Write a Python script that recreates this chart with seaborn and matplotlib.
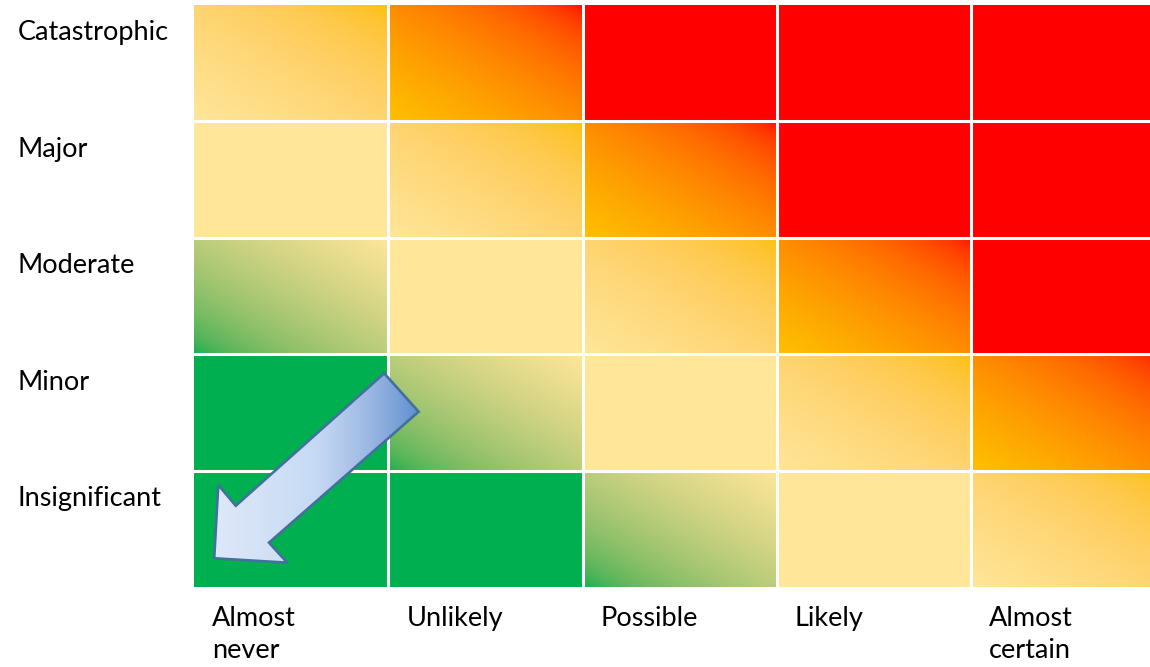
import numpy as np
import pandas as pd
import matplotlib
matplotlib.use("Agg")
import matplotlib.pyplot as plt
import seaborn as sns
from matplotlib.colors import ListedColormap, Normalize, to_rgb
from matplotlib.patches import Polygon

# ---- data ----
impact = ["Catastrophic", "Major", "Moderate", "Minor", "Insignificant"]
likelihood = ["Almost\nnever", "Unlikely", "Possible", "Likely", "Almost\ncertain"]

# risk score per cell (rows top->bottom, cols left->right)
score = [
    [4, 5, 6, 6, 6],
    [3, 4, 5, 6, 6],
    [2, 3, 4, 5, 6],
    [1, 2, 3, 4, 5],
    [0, 1, 2, 3, 4],
]

# colour band of each score: (start, end) on the green-pale-gold-red scale
band_start = {0: 0, 1: 0, 2: 0, 3: 1, 4: 1, 5: 2, 6: 3}
band_end = {0: 0, 1: 0, 2: 1, 3: 1, 4: 2, 5: 3, 6: 3}

stops = ["#00B050", "#FFE699", "#FFC000", "#FF0000"]


def to_lin(c):
    c = np.asarray(c)
    return np.where(c <= 0.04045, c / 12.92, ((c + 0.055) / 1.055) ** 2.4)


def to_srgb(c):
    c = np.asarray(c)
    return np.where(c <= 0.0031308, c * 12.92, 1.055 * c ** (1 / 2.4) - 0.055)


def blend_cmap(colors, n=256):
    # gradients are mixed in linear light, like office shapes do
    out = []
    for a, b in zip(colors[:-1], colors[1:]):
        la, lb = to_lin(to_rgb(a)), to_lin(to_rgb(b))
        for f in np.linspace(0, 1, n, endpoint=False):
            out.append(to_srgb((1 - f) * la + f * lb))
    out.append(to_rgb(colors[-1]))
    return ListedColormap(np.clip(out, 0, 1))


cmap = blend_cmap(stops)
norm = Normalize(0, len(stops) - 1)

start = np.array([[band_start[s] for s in row] for row in score], float)
end = np.array([[band_end[s] for s in row] for row in score], float)

fig = plt.figure(figsize=(11.5, 6.67), dpi=100)
ax = fig.add_axes([194 / 1150, 80 / 667, 971.5 / 1150, 582 / 667])

sns.heatmap(pd.DataFrame((start + end) / 2), cmap=cmap, vmin=0, vmax=3,
            cbar=False, ax=ax, xticklabels=False, yticklabels=False)

# diagonal gradients: low colour bottom-left, high colour top-right
u = np.linspace(0, 1, 200)[None, :]
v = np.linspace(1, 0, 120)[:, None]
t = (u + v) / 2
for r in range(5):
    for c in range(5):
        if start[r, c] != end[r, c]:
            vals = start[r, c] + (end[r, c] - start[r, c]) * t
            ax.imshow(vals, cmap=cmap, norm=norm, extent=(c, c + 1, r + 1, r),
                      origin="upper", aspect="auto", interpolation="bilinear",
                      zorder=2)

for k in range(1, 5):
    ax.axvline(k, color="white", lw=2.2, zorder=3)
    ax.axhline(k, color="white", lw=2.2, zorder=3)
ax.set_xlim(0, 5)
ax.set_ylim(5, 0)
ax.axis("off")

# block arrow pointing to the low-risk corner
arrow_pts = np.array([
    [0.979, 3.164], [1.156, 3.494], [0.386, 4.619], [0.480, 4.791],
    [0.104, 4.753], [0.125, 4.124], [0.215, 4.302],
])
poly = Polygon(arrow_pts, closed=True, facecolor="none", edgecolor="#41719C",
               lw=1.9, joinstyle="miter", zorder=6)
ax.add_patch(poly)
blue = blend_cmap(["#DEE9F9", "#C6D9F4", "#5A8ED0"])
x0, y0 = arrow_pts.min(axis=0)
x1, y1 = arrow_pts.max(axis=0)
grad = ax.imshow(np.linspace(0, 1, 256)[None, :], cmap=blue,
                 extent=(x0, x1, y1, y0), aspect="auto", zorder=5,
                 interpolation="bilinear")
grad.set_clip_path(poly)
ax.set_xlim(0, 5)
ax.set_ylim(5, 0)

font = dict(family=["Lato", "DejaVu Sans"], fontsize=19.5, color="black")
for r, name in enumerate(impact):
    ax.text(-0.906, r + 0.24, name, ha="left", va="center", clip_on=False,
            **font)
for c, name in enumerate(likelihood):
    ax.text(c + 0.093, 5.165, name, ha="left", va="top", clip_on=False,
            linespacing=1.35, **font)

fig.savefig("out.png", dpi=100)
